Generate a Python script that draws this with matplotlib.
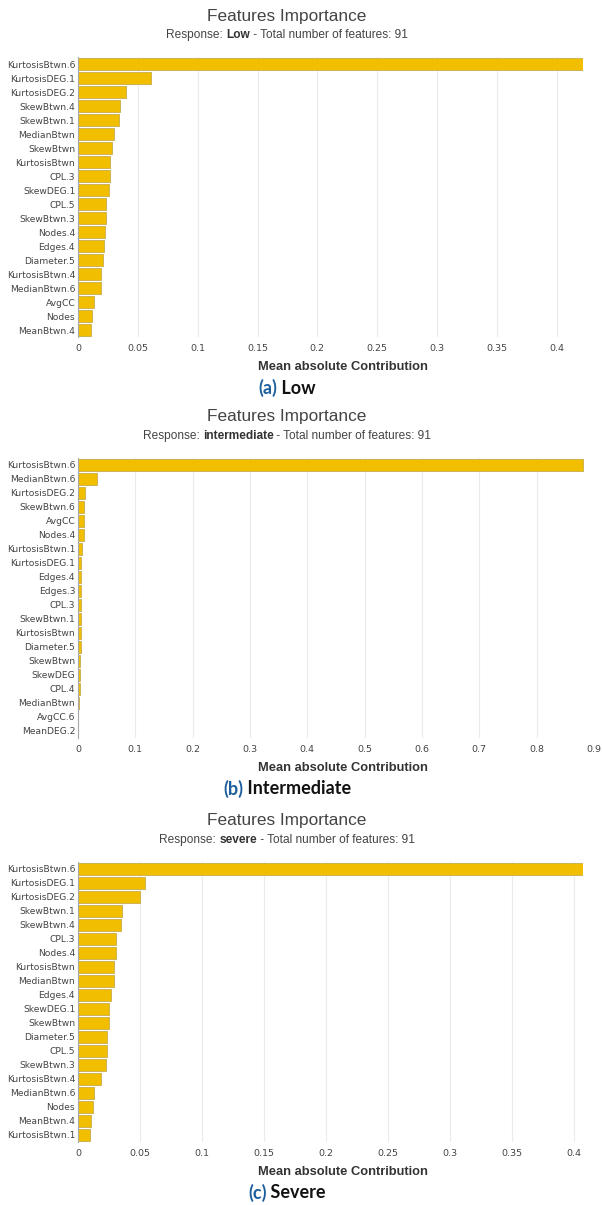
import matplotlib
matplotlib.use("Agg")
import matplotlib.pyplot as plt
import numpy as np

# feature contributions per response class
low_features = ["KurtosisBtwn.6", "KurtosisDEG.1", "KurtosisDEG.2", "SkewBtwn.4", "SkewBtwn.1",
                "MedianBtwn", "SkewBtwn", "KurtosisBtwn", "CPL.3", "SkewDEG.1", "CPL.5",
                "SkewBtwn.3", "Nodes.4", "Edges.4", "Diameter.5", "KurtosisBtwn.4",
                "MedianBtwn.6", "AvgCC", "Nodes", "MeanBtwn.4"]
low_values = [0.422, 0.0606, 0.0397, 0.0352, 0.0345, 0.0299, 0.0288, 0.0271, 0.0268, 0.0257,
              0.0238, 0.0232, 0.0222, 0.0220, 0.0209, 0.0193, 0.0190, 0.0137, 0.0120, 0.0109]

mid_features = ["KurtosisBtwn.6", "MedianBtwn.6", "KurtosisDEG.2", "SkewBtwn.6", "AvgCC",
                "Nodes.4", "KurtosisBtwn.1", "KurtosisDEG.1", "Edges.4", "Edges.3", "CPL.3",
                "SkewBtwn.1", "KurtosisBtwn", "Diameter.5", "SkewBtwn", "SkewDEG", "CPL.4",
                "MedianBtwn", "AvgCC.6", "MeanDEG.2"]
mid_values = [0.880, 0.0328, 0.0114, 0.0102, 0.0100, 0.0099, 0.0065, 0.0060, 0.0057, 0.0056,
              0.0053, 0.0050, 0.0047, 0.0045, 0.0043, 0.0040, 0.0035, 0.0010, 0.0005, 0.0003]

sev_features = ["KurtosisBtwn.6", "KurtosisDEG.1", "KurtosisDEG.2", "SkewBtwn.1", "SkewBtwn.4",
                "CPL.3", "Nodes.4", "KurtosisBtwn", "MedianBtwn", "Edges.4", "SkewDEG.1",
                "SkewBtwn", "Diameter.5", "CPL.5", "SkewBtwn.3", "KurtosisBtwn.4",
                "MedianBtwn.6", "Nodes", "MeanBtwn.4", "KurtosisBtwn.1"]
sev_values = [0.4076, 0.0543, 0.0500, 0.0354, 0.0348, 0.0306, 0.0303, 0.0289, 0.0288, 0.0268,
              0.0254, 0.0253, 0.0237, 0.0236, 0.0225, 0.0187, 0.0128, 0.0120, 0.0106, 0.0095]

low_ticks = [0, 0.05, 0.1, 0.15, 0.2, 0.25, 0.3, 0.35, 0.4]
mid_ticks = [0, 0.1, 0.2, 0.3, 0.4, 0.5, 0.6, 0.7, 0.8, 0.9]
sev_ticks = [0, 0.05, 0.1, 0.15, 0.2, 0.25, 0.3, 0.35, 0.4]

W, H = 602, 1205
BAR_COLOR = '#f2bf00'
EDGE_COLOR = '#c9ab4a'


def fmt_tick(v):
    return '0' if v == 0 else f'{v:g}'


def centered_pieces(fig, x, y, pieces):
    """draw a row of differently styled strings centered on (x, y) in pixels"""
    fig.canvas.draw()
    r = fig.canvas.get_renderer()
    texts = []
    total = 0
    for s, kw in pieces:
        t = fig.text(0, 1 - y / H, s, va='center', ha='left', **kw)
        w = t.get_window_extent(renderer=r).width
        texts.append((t, w))
        total += w
    cur = x - total / 2
    for t, w in texts:
        t.set_x(cur / W)
        cur += w


def draw_panel(fig, top, features, values, ticks, response, tag, caption, xmax=None, right=583):
    left = 78
    height = 280
    ax = fig.add_axes([left / W, 1 - (top + height) / H, (right - left) / W, height / H])
    y = np.arange(len(features))
    ax.barh(y, values, height=0.84, color=BAR_COLOR, edgecolor=EDGE_COLOR, linewidth=0.6, zorder=3)
    ax.set_ylim(len(features) - 0.5, -0.5)
    ax.set_xlim(0, xmax if xmax else max(values))
    ax.set_yticks(y)
    ax.set_yticklabels(features, fontsize=6.6, color='#444444')
    ax.set_xticks(ticks)
    ax.set_xticklabels([fmt_tick(t) for t in ticks], fontsize=6.8, color='#444444')
    ax.tick_params(axis='both', length=0, pad=2)
    ax.tick_params(axis='x', pad=5)
    ax.grid(axis='x', color='#ebebeb', linewidth=0.8, zorder=0)
    for side in ('top', 'right', 'bottom'):
        ax.spines[side].set_visible(False)
    ax.spines['left'].set_color('#a8a8a8')
    ax.spines['left'].set_linewidth(0.8)
    ax.spines['left'].set_zorder(4)

    fig.text(287 / W, 1 - (top - 41) / H, 'Features Importance', ha='center', va='center',
             fontsize=12.4, color='#444444', family='Liberation Sans')
    centered_pieces(fig, 287, top - 22, [
        ('Response: ', dict(fontsize=8.6, color='#444444', family='Liberation Sans')),
        (response, dict(fontsize=8.6, color='#333333', family='Liberation Sans', weight='bold')),
        (' - Total number of features: 91', dict(fontsize=8.6, color='#444444', family='Liberation Sans')),
    ])
    fig.text(343 / W, 1 - (top + 310) / H, 'Mean absolute Contribution', ha='center', va='center',
             fontsize=9.3, color='#333333', family='Liberation Sans', weight='bold')
    centered_pieces(fig, 287, top + 331, [
        (tag, dict(fontsize=13, color='#1d5f9c', family='Lato', weight='bold')),
        (' ' + caption, dict(fontsize=13, color='#111111', family='Lato', weight='bold')),
    ])
    return ax


fig = plt.figure(figsize=(W / 100, H / 100), dpi=100)
draw_panel(fig, 57, low_features, low_values, low_ticks, 'Low', '(a)', 'Low')
draw_panel(fig, 458, mid_features, mid_values, mid_ticks, 'intermediate', '(b)', 'Intermediate',
           xmax=0.9, right=594)
draw_panel(fig, 862, sev_features, sev_values, sev_ticks, 'severe', '(c)', 'Severe')
fig.savefig('out.png', dpi=100)
